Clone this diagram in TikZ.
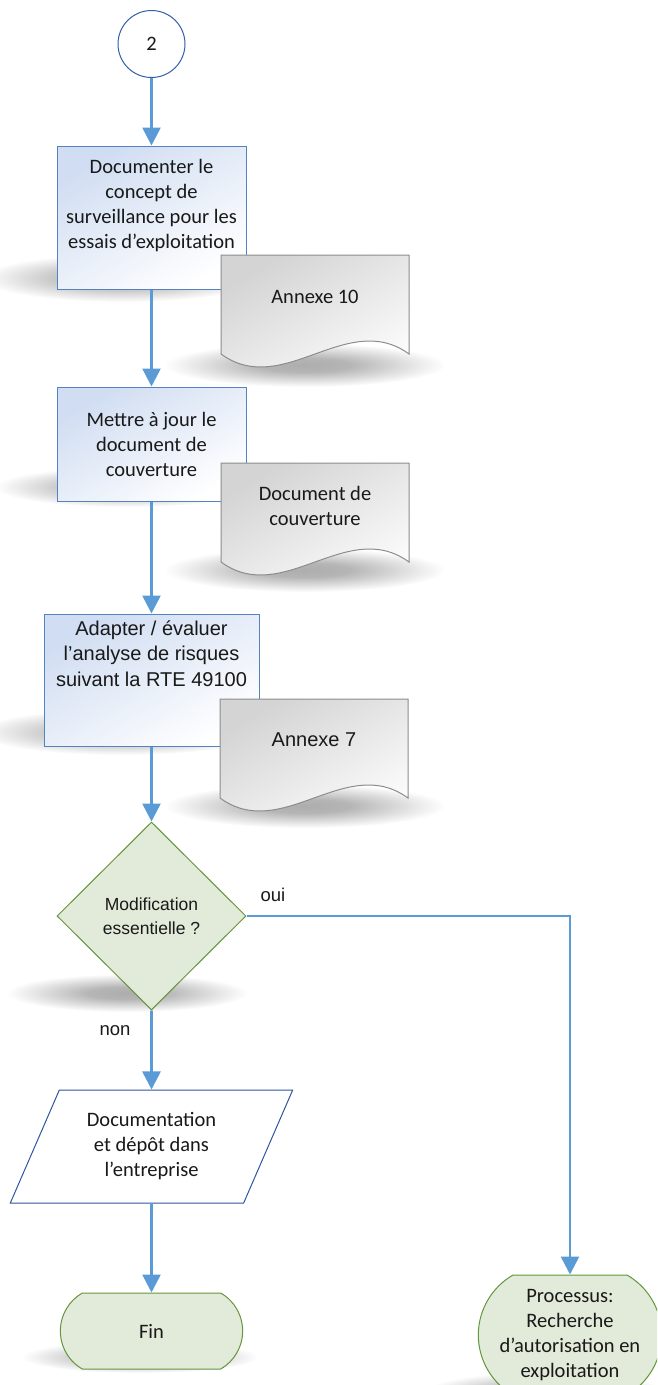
\documentclass[tikz,border=0pt]{standalone}
\usepackage{fontspec}
\setmainfont{Carlito}
\newfontfamily\arialfont{Liberation Sans}
\usetikzlibrary{arrows.meta,shapes.geometric,shapes.misc,fadings}

\definecolor{flowblue}{RGB}{91,155,213}
\definecolor{boxedge}{RGB}{84,130,195}
\definecolor{boxfill}{RGB}{208,221,242}
\definecolor{ringblue}{RGB}{50,95,170}
\definecolor{paredge}{RGB}{47,85,160}
\definecolor{termfill}{RGB}{226,234,218}
\definecolor{termedge}{RGB}{100,150,60}
\definecolor{docedge}{RGB}{140,140,140}
\definecolor{docfill}{RGB}{212,212,212}
\definecolor{inktext}{RGB}{25,25,25}

\pgfdeclareradialshading{softedgeshade}{\pgfpointorigin}{%
  color(0bp)=(pgftransparent!0); color(8bp)=(pgftransparent!10);
  color(25bp)=(pgftransparent!100); color(50bp)=(pgftransparent!100)}
\pgfdeclarefading{softedge}{\pgfuseshading{softedgeshade}}

\newcommand{\carl}{\fontsize{20.5}{25}\selectfont}

\tikzset{
  flow/.style={draw=flowblue, line width=2.6pt, ->},
  shadowblob/.style={fill=black!32, path fading=softedge},
  ring/.style={circle, draw=ringblue, line width=1pt, fill=white,
               minimum size=67pt, inner sep=0pt},
  procbox/.style={rectangle, draw=boxedge, line width=1pt, align=center,
                  top color=boxfill, bottom color=white, shading angle=30,
                  minimum width=189pt},
  decision/.style={diamond, aspect=1, draw=termedge, line width=1pt,
                   fill=termfill, align=center, inner sep=0pt,
                   minimum width=189pt, minimum height=188pt},
  iobox/.style={trapezium, trapezium left angle=64, trapezium right angle=116,
                trapezium stretches=true, draw=paredge, line width=1pt,
                fill=white, align=center, minimum width=283pt,
                minimum height=113pt},
  terminal/.style={rounded rectangle, rounded rectangle arc length=120,
                   draw=termedge, line width=1pt, fill=termfill,
                   align=center, minimum width=189pt},
  arialbig/.style={font=\arialfont\fontsize{20}{25.5}\selectfont},
  arialmid/.style={font=\arialfont\fontsize{18.5}{24}\selectfont},
  arialsmall/.style={font=\arialfont\fontsize{17.5}{24}\selectfont},
  docpage/.pic={
    \path[draw=docedge, line width=1pt, top color=docfill,
          bottom color=white, shading angle=30]
      (0,0) -- (188,0) -- (188,-99)
      .. controls (126,-54) and (62,-144) .. (0,-99) -- cycle;
  }
}

\begin{document}
\begin{tikzpicture}[x=1pt, y=1pt, font=\carl, text=inktext,
                    >={Triangle[length=18pt,width=18pt]}]

  \useasboundingbox (0,0) rectangle (657,-1385);
  \clip (0,0) rectangle (657,-1385);

  % shadows
  \fill[shadowblob] (122,-278) ellipse [x radius=140, y radius=24];
  \fill[shadowblob] (127,-487) ellipse [x radius=132, y radius=20];
  \fill[shadowblob] (122,-732) ellipse [x radius=145, y radius=23];
  \fill[shadowblob] (305,-365) ellipse [x radius=140, y radius=22];
  \fill[shadowblob] (305,-570) ellipse [x radius=140, y radius=22];
  \fill[shadowblob] (305,-806) ellipse [x radius=140, y radius=22];
  \fill[shadowblob] (127,-993) ellipse [x radius=120, y radius=19];
  \fill[shadowblob] (140,-1357) ellipse [x radius=118, y radius=16];
  \fill[shadowblob] (545,-1392) ellipse [x radius=120, y radius=20];

  \node[ring] (c2) at (151.5,-44) {2};
  \node[procbox, minimum height=143pt] (docsurv) [below of=c2, node distance=173.5pt]
        {Documenter le\\concept de\\surveillance pour les\\essais d’exploitation\\[2pt]~};
  \node[procbox, minimum height=114pt] (update) [below of=docsurv, node distance=226.5pt]
        {Mettre à jour le\\document de\\couverture};
  \node[procbox, arialbig, minimum width=215pt, minimum height=132pt] (risk)
        [below of=update, node distance=236pt]
        {Adapter / évaluer\\l’analyse de risques\\suivant la RTE 49100\\~\\[2pt]~};
  \node[decision, arialsmall] (modif) [below of=risk, node distance=236pt]
        {Modification\\essentielle ?};
  \node[iobox] (depot) [below of=modif, node distance=230.5pt]
        {Documentation\\et dépôt dans\\l’entreprise};
  \node[terminal, minimum height=76pt] (fin) [below of=depot, node distance=184.5pt] {Fin};
  \node[terminal, minimum width=190pt, minimum height=120pt] (proc) at (570,-1335)
        {Processus:\\Recherche\\d’autorisation en\\exploitation};

  % documents
  \pic at (221,-255) {docpage};
  \node (annex10) at (315,-297) {Annexe 10};
  \pic at (221,-463) {docpage};
  \node[align=center] (couv) at (315,-505.5) {Document de\\couverture};
  \pic at (220,-699) {docpage};
  \node[arialbig] (annex7) at (314,-740) {Annexe 7};

  \node[arialmid] (oui) at (273,-895) {oui};
  \node[arialmid] (non) at (115,-1031) {non};

  \draw[flow] (c2) -- (docsurv);
  \draw[flow] (docsurv) -- (update);
  \draw[flow] (update) -- (risk);
  \draw[flow] (risk) -- (modif);
  \draw[flow] (modif) -- (depot);
  \draw[flow] (depot) -- (fin);
  \draw[flow] (modif.east) -| (proc.north);

\end{tikzpicture}
\end{document}
